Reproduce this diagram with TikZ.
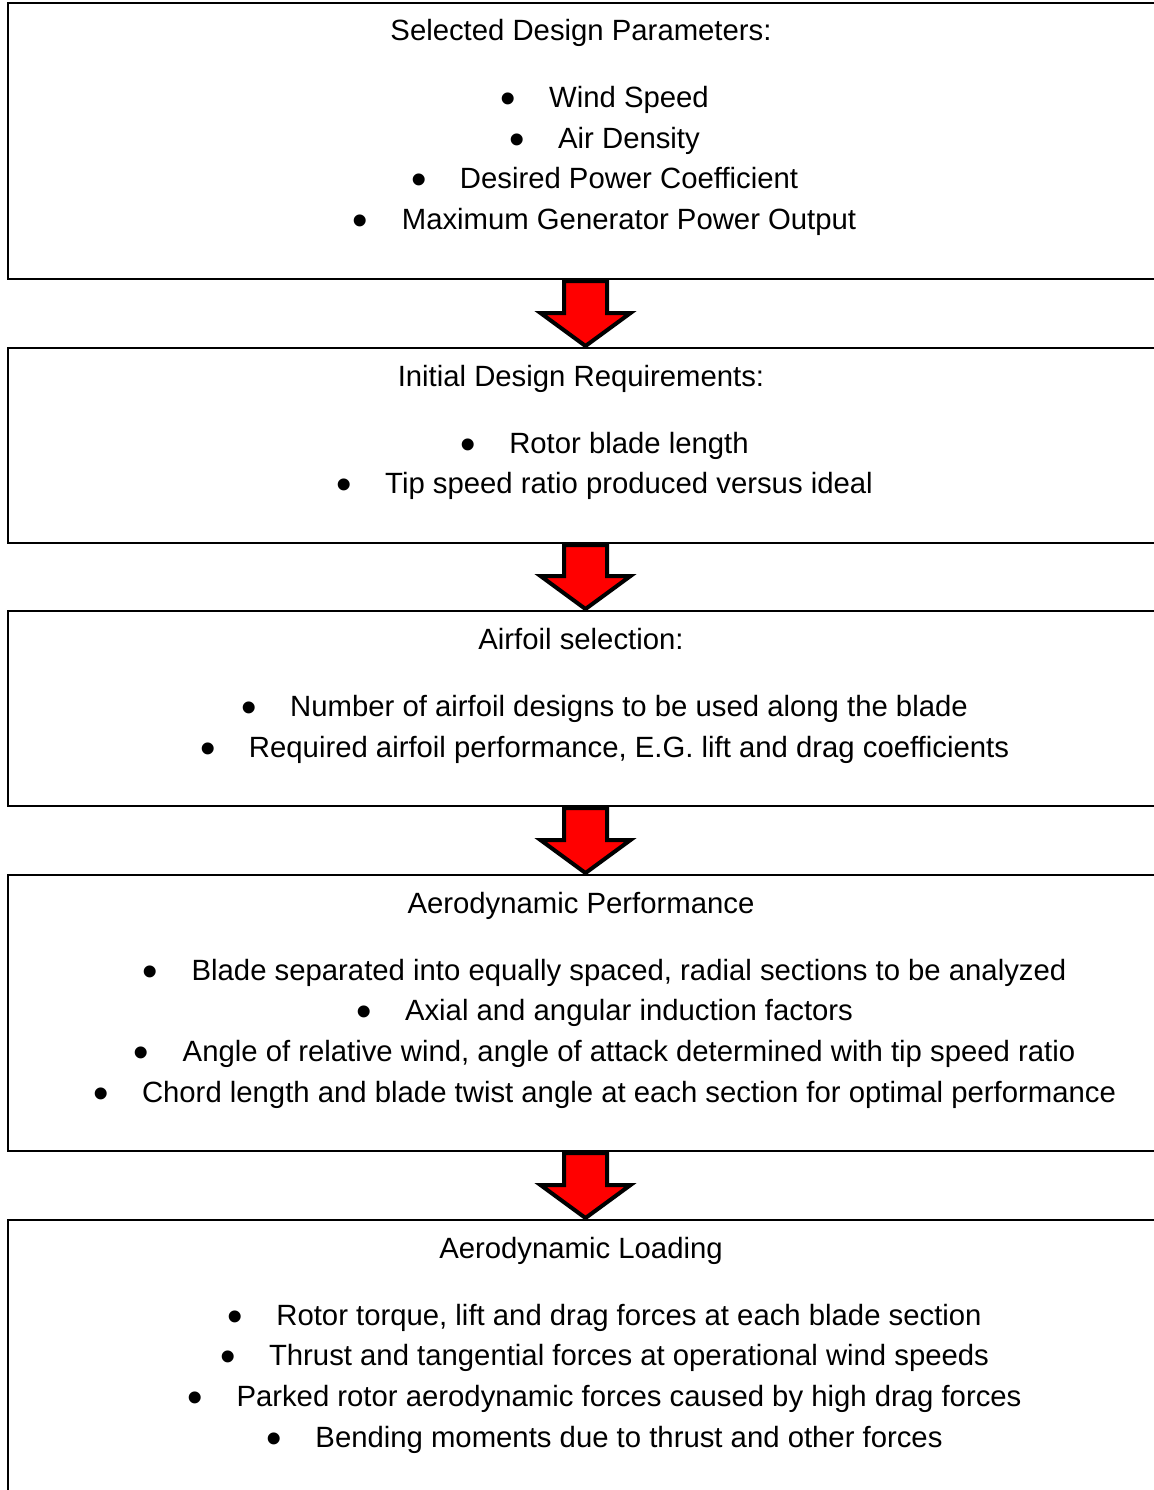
\documentclass[tikz,border=0pt]{standalone}
\usepackage{fontspec}
\setmainfont{Liberation Sans}
\usetikzlibrary{positioning,calc}

% block arrow from the bottom of one stage to the top of the next
\newcommand{\stagearrow}[2]{%
  \draw[bigarrow] let \p1=(#1.south), \p2=(#2.north) in
    (\x1-24pt,\y1-1pt) -- (\x1+19pt,\y1-1pt) -- (\x1+19pt,\y2+34pt)
    -- (\x1+42.5pt,\y2+34pt) -- (\x1-2.5pt,\y2+1pt) -- (\x1-47.5pt,\y2+34pt)
    -- (\x1-24pt,\y2+34pt) -- cycle;}
% bullet in front of an item
\newcommand{\bul}[1]{\node[dot] at ([xshift=-41pt]#1.base west) {•};}

\begin{document}
\begin{tikzpicture}[x=1pt, y=-1pt, font=\fontsize{29.3}{35}\selectfont,
    stage/.style={draw, line width=2pt, minimum width=1160pt, inner sep=0pt},
    heading/.style={anchor=base, inner sep=0pt},
    item/.style={anchor=base, inner sep=0pt},
    dot/.style={anchor=base, inner sep=0pt, yshift=-6pt, font=\fontsize{44}{44}\selectfont},
    bigarrow/.style={draw, line width=4pt, fill=red}]
  \useasboundingbox (0,0) rectangle (1153,1490);

  \node[stage, minimum height=276pt] (s1) at (588,141)    {};
  \node[stage, minimum height=195pt] (s2) at (588,445.5)  {};
  \node[stage, minimum height=195pt] (s3) at (588,708.5)  {};
  \node[stage, minimum height=276pt] (s4) at (588,1013)   {};
  \node[stage, minimum height=276pt] (s5) at (588,1358)   {};

  \stagearrow{s1}{s2}
  \stagearrow{s2}{s3}
  \stagearrow{s3}{s4}
  \stagearrow{s4}{s5}

  % stage 1
  \node[heading] (h1) at (581,40.5) {Selected Design Parameters:};
  \node[item] (i11) at (629,107.5) {Wind Speed};                  \bul{i11}
  \node[item] (i12) at (629,148.2) {Air Density};                 \bul{i12}
  \node[item] (i13) at (629,188.9) {Desired Power Coefficient};   \bul{i13}
  \node[item] (i14) at (629,229.6) {Maximum Generator Power Output}; \bul{i14}

  % stage 2
  \node[heading] (h2) at (581,386.5) {Initial Design Requirements:};
  \node[item] (i21) at (629,453)   {Rotor blade length};          \bul{i21}
  \node[item] (i22) at (629,493.7) {Tip speed ratio produced versus ideal}; \bul{i22}

  % stage 3
  \node[heading] (h3) at (581,649.5) {Airfoil selection:};
  \node[item] (i31) at (629,716.5) {Number of airfoil designs to be used along the blade}; \bul{i31}
  \node[item] (i32) at (629,757.2) {Required airfoil performance, E.G. lift and drag coefficients}; \bul{i32}

  % stage 4
  \node[heading] (h4) at (581,913.5) {Aerodynamic Performance};
  \node[item] (i41) at (629,980)    {Blade separated into equally spaced, radial sections to be analyzed}; \bul{i41}
  \node[item] (i42) at (629,1020.7) {Axial and angular induction factors}; \bul{i42}
  \node[item] (i43) at (629,1061.4) {Angle of relative wind, angle of attack determined with tip speed ratio}; \bul{i43}
  \node[item] (i44) at (629,1102.1) {Chord length and blade twist angle at each section for optimal performance}; \bul{i44}

  % stage 5
  \node[heading] (h5) at (581,1258.5) {Aerodynamic Loading};
  \node[item] (i51) at (629,1325)   {Rotor torque, lift and drag forces at each blade section}; \bul{i51}
  \node[item] (i52) at (629,1365.7) {Thrust and tangential forces at operational wind speeds}; \bul{i52}
  \node[item] (i53) at (629,1406.4) {Parked rotor aerodynamic forces caused by high drag forces}; \bul{i53}
  \node[item] (i54) at (629,1447.1) {Bending moments due to thrust and other forces}; \bul{i54}
\end{tikzpicture}
\end{document}
